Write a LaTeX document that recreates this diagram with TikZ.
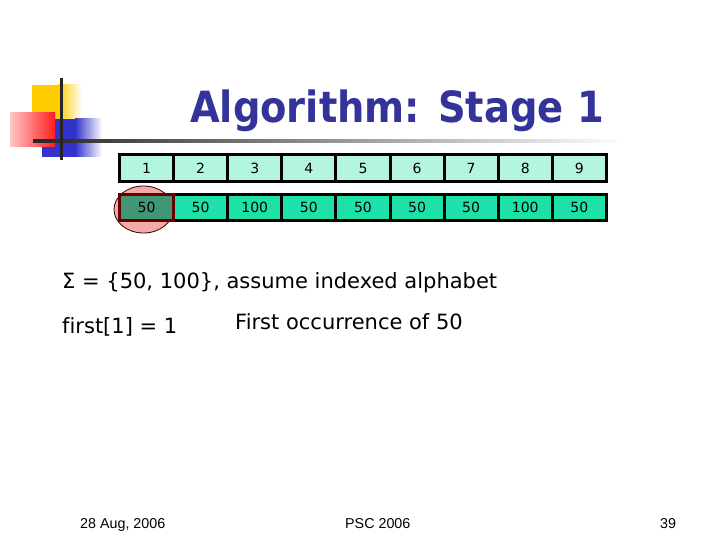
\documentclass[tikz,border=0pt]{standalone}
\usepackage{fontspec}
\usetikzlibrary{shapes.geometric}
\setmainfont{DejaVu Sans}[Ligatures=NoCommon]
\newfontfamily\footfont{Liberation Sans}
\definecolor{titleblue}{RGB}{51,51,153}
\definecolor{rowone}{RGB}{180,245,225}
\definecolor{rowtwo}{RGB}{30,225,170}
\definecolor{hilite}{RGB}{65,150,115}
\definecolor{pinkfill}{RGB}{245,170,170}
\definecolor{maroon}{RGB}{100,0,0}
\definecolor{logoyellow}{RGB}{255,204,0}
\definecolor{logoblue}{RGB}{51,51,204}
\definecolor{logored}{RGB}{255,30,30}
\tikzset{
  cellone/.style={draw=black, line width=3pt, fill=rowone, minimum width=54.1pt, minimum height=27pt, inner sep=0pt, font=\fontsize{14}{14}\selectfont},
  celltwo/.style={draw=black, line width=3pt, fill=rowtwo, minimum width=54.1pt, minimum height=26pt, inner sep=0pt, font=\fontsize{14}{14}\selectfont},
  bodytext/.style={anchor=base west, inner sep=0pt, font=\fontsize{21}{21}\selectfont},
  foottext/.style={anchor=base west, inner sep=0pt, font=\footfont\fontsize{14.3}{14.3}\selectfont}
}
\begin{document}
\begin{tikzpicture}[x=1pt,y=-1pt]
\useasboundingbox (0,0) rectangle (720,540);
\fill[white] (0,0) rectangle (720,540);
% logo
\fill[logoyellow] (32,85) rectangle (58,119);
\shade[left color=logoyellow, right color=white] (58,85) rectangle (82,119);
\fill[logoblue] (42,119) rectangle (75,157);
\shade[left color=logoblue, right color=white] (75,119) rectangle (102,157);
\shade[left color=white!75!logored, right color=logored] (10,113) rectangle (55,147);
\shade[left color=black!85, right color=white] (33,139.5) rectangle (625,142.5);
\draw[line width=3pt, black!85] (61,78) -- (61,160);
% title
\node[anchor=base east, inner sep=0pt, text=titleblue, font=\bfseries\fontsize{43}{43}\selectfont] (title) at (604,123) {\scalebox{0.894}[1]{Algorithm: Stage 1}};
% ellipse
\node[ellipse, draw=black!80!red, fill=pinkfill, minimum width=59pt, minimum height=47pt, inner sep=0pt, line width=0.8pt] (circ) at (143.5,209.5) {};
% rows
\foreach \i/\v in {1/1,2/2,3/3,4/4,5/5,6/6,7/7,8/8,9/9}{
  \node[cellone] (c\i) at ({119.5+27.05+54.1*(\i-1)},168) {\v};
}
\foreach \i/\v in {2/50,3/100,4/50,5/50,6/50,7/50,8/100,9/50}{
  \node[celltwo] (d\i) at ({119.5+27.05+54.1*(\i-1)},207.5) {\v};
}
\node[celltwo, draw=maroon, fill=hilite] (d1) at (146.55,207.5) {50};
% texts
\node[bodytext] (sigma) at (62,288) {Σ = \{50, 100\}, assume indexed alphabet};
\node[bodytext] (first) at (62,333) {\mbox{f}irst[1] = 1};
\node[bodytext] (occ) at (235,329) {First occurrence of 50};
% footer
\node[foottext] (date) at (80,528) {28 Aug, 2006};
\node[foottext] (psc) at (345,528) {PSC 2006};
\node[foottext] (num) at (660,528) {39};
\end{tikzpicture}
\end{document}
